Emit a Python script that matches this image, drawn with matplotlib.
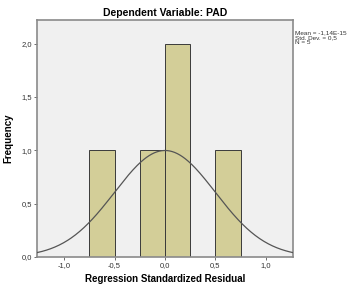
import numpy as np
import matplotlib.pyplot as plt

plt.rcParams["font.family"] = ["Liberation Sans", "DejaVu Sans"]

# histogram of standardized residuals
bin_left = [-0.75, -0.25, 0.0, 0.5]
counts = [1, 1, 2, 1]
bin_width = 0.25
mean = 0.0
std = 0.5
n = 5

x_ticks = [-1.0, -0.5, 0.0, 0.5, 1.0]
x_labels = ["-1,0", "-0,5", "0,0", "0,5", "1,0"]
y_ticks = [0.0, 0.5, 1.0, 1.5, 2.0]
y_labels = ["0,0", "0,5", "1,0", "1,5", "2,0"]

fig = plt.figure(figsize=(3.51, 2.87), dpi=100)
ax = fig.add_axes([0.105, 0.105, 0.73, 0.825])
ax.set_facecolor("#f0f0f0")

ax.bar(bin_left, counts, width=bin_width, align="edge",
       color="#d3ce98", edgecolor="#3a3a3a", linewidth=0.7, zorder=2)

# normal curve scaled to counts
xs = np.linspace(-1.27, 1.27, 300)
ys = n * bin_width / (std * np.sqrt(2 * np.pi)) * np.exp(-0.5 * ((xs - mean) / std) ** 2)
ax.plot(xs, ys, color="#555555", linewidth=0.9, zorder=3)

ax.set_xlim(-1.27, 1.27)
ax.set_ylim(0, 2.22)
ax.set_xticks(x_ticks)
ax.set_xticklabels(x_labels)
ax.set_yticks(y_ticks)
ax.set_yticklabels(y_labels)
ax.tick_params(labelsize=5.5, length=2.5, width=0.6, color="#555555", pad=1, labelcolor="#333333")
for s in ax.spines.values():
    s.set_color("#8a8a8a")
    s.set_linewidth(1.2)

ax.set_title("Dependent Variable: PAD", fontsize=7.5, fontweight="bold", pad=3)
ax.set_xlabel("Regression Standardized Residual", fontsize=7, fontweight="bold", labelpad=4)
ax.set_ylabel("Frequency", fontsize=7, fontweight="bold", labelpad=6)

fig.text(0.841, 0.893, "Mean = -1,14E-15\nStd. Dev. = 0,5\nN = 5",
         fontsize=4.6, va="top", ha="left", linespacing=0.95, color="#333333")

fig.savefig("out.png", dpi=100, facecolor="white")
